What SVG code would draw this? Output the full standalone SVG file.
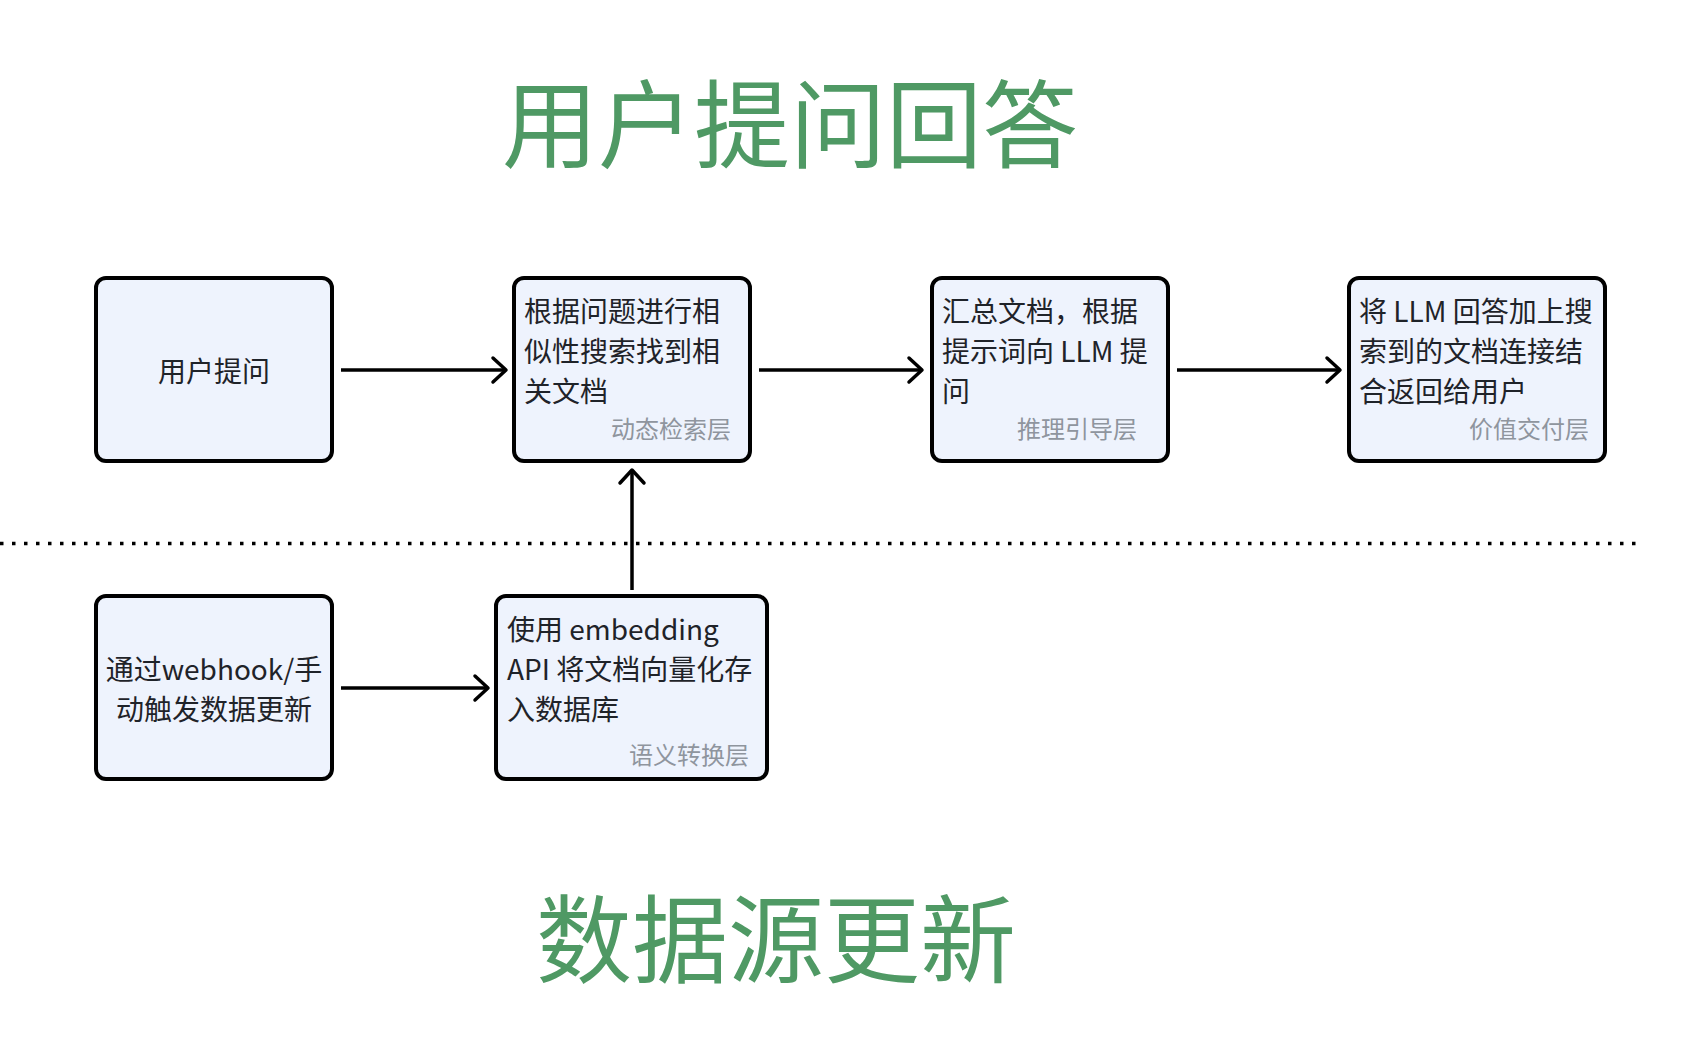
<svg xmlns="http://www.w3.org/2000/svg" width="1691" height="1050" viewBox="0 0 1691 1050">
<style>
.box{fill:#eef3fd;stroke:#000;stroke-width:4}
.t{font-family:"Noto Sans CJK SC","Noto Sans",sans-serif;font-size:28px;fill:#1f2329}
.lbl{font-family:"Noto Sans CJK SC","Noto Sans",sans-serif;font-size:24px;fill:#8f959e;text-anchor:end}
.title{font-family:"Noto Sans CJK SC","Noto Sans",sans-serif;font-size:96px;fill:#4f9964;text-anchor:middle}
.c{stroke:#000;stroke-width:3.5;fill:none}
.h{stroke:#000;stroke-width:3.5;fill:none;stroke-linecap:round;stroke-linejoin:round}
</style>
<rect width="1691" height="1050" fill="#fff"/>
<text class="title" x="790" y="160">用户提问回答</text>
<text class="title" x="776" y="975">数据源更新</text>
<line x1="0" y1="543.5" x2="1640" y2="543.5" stroke="#000" stroke-width="3.5" stroke-dasharray="3.5 8.5"/>
<g id="connectors">
<line class="c" x1="341" y1="370" x2="505" y2="370"/>
<polyline class="h" points="493,358 506,370 493,382"/>
<line class="c" x1="759" y1="370" x2="921" y2="370"/>
<polyline class="h" points="909,358 922,370 909,382"/>
<line class="c" x1="1177" y1="370" x2="1339" y2="370"/>
<polyline class="h" points="1327,358 1340,370 1327,382"/>
<line class="c" x1="341" y1="688" x2="487" y2="688"/>
<polyline class="h" points="475,676 488,688 475,700"/>
<line class="c" x1="632" y1="590" x2="632" y2="471"/>
<polyline class="h" points="620,483 632,470 644,483"/>
</g>
<g id="n1">
<rect class="box" x="96" y="278" width="236" height="183" rx="10"/>
<text class="t" x="214" y="382" text-anchor="middle">用户提问</text>
</g>
<g id="n2">
<rect class="box" x="514" y="278" width="236" height="183" rx="10"/>
<text class="t" x="524" y="322">根据问题进行相</text>
<text class="t" x="524" y="362">似性搜索找到相</text>
<text class="t" x="524" y="402">关文档</text>
<text class="lbl" x="731" y="438">动态检索层</text>
</g>
<g id="n3">
<rect class="box" x="932" y="278" width="236" height="183" rx="10"/>
<text class="t" x="942" y="322">汇总文档，根据</text>
<text class="t" x="942" y="362">提示词向 LLM 提</text>
<text class="t" x="942" y="402">问</text>
<text class="lbl" x="1137" y="438">推理引导层</text>
</g>
<g id="n4">
<rect class="box" x="1349" y="278" width="256" height="183" rx="10"/>
<text class="t" x="1359" y="322">将 LLM 回答加上搜</text>
<text class="t" x="1359" y="362">索到的文档连接结</text>
<text class="t" x="1359" y="402">合返回给用户</text>
<text class="lbl" x="1589" y="438">价值交付层</text>
</g>
<g id="n5">
<rect class="box" x="96" y="596" width="236" height="183" rx="10"/>
<text class="t" x="214" y="680" text-anchor="middle">通过webhook/手</text>
<text class="t" x="214" y="720" text-anchor="middle">动触发数据更新</text>
</g>
<g id="n6">
<rect class="box" x="496" y="596" width="271" height="183" rx="10"/>
<text class="t" x="507" y="640">使用 embedding</text>
<text class="t" x="507" y="680">API 将文档向量化存</text>
<text class="t" x="507" y="720">入数据库</text>
<text class="lbl" x="749" y="764">语义转换层</text>
</g>
</svg>
